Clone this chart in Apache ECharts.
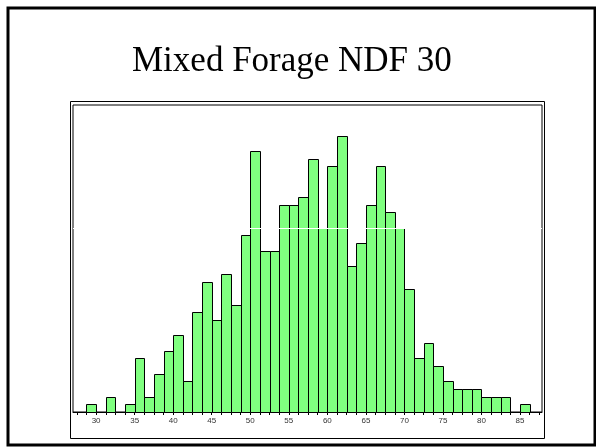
<!DOCTYPE html>
<html>
<head>
<meta charset="utf-8">
<script src="https://cdn.jsdelivr.net/npm/echarts@6/dist/echarts.min.js"></script>
<style>
html,body{margin:0;padding:0;background:#fff;}
#chart{width:596px;height:447px;}
</style>
</head>
<body>
<div id="chart"></div>
<script>
var titleText = 'Mixed Forage NDF 30';
var binWidth = 1.25;
var binStarts = [28.75, 30, 31.25, 32.5, 33.75, 35, 36.25, 37.5, 38.75, 40, 41.25, 42.5, 43.75, 45, 46.25, 47.5, 48.75, 50, 51.25, 52.5, 53.75, 55, 56.25, 57.5, 58.75, 60, 61.25, 62.5, 63.75, 65, 66.25, 67.5, 68.75, 70, 71.25, 72.5, 73.75, 75, 76.25, 77.5, 78.75, 80, 81.25, 82.5, 83.75, 85];
var counts = [1, 0, 2, 0, 1, 7, 2, 5, 8, 10, 4, 13, 17, 12, 18, 14, 23, 34, 21, 21, 27, 27, 28, 33, 24, 32, 36, 19, 22, 27, 32, 26, 24, 16, 7, 9, 6, 4, 3, 3, 3, 2, 2, 2, 0, 1];
var tickLabels = [30, 35, 40, 45, 50, 55, 60, 65, 70, 75, 80, 85];
var minorTicks = [27.5, 28.75, 30, 31.25, 32.5, 33.75, 35, 36.25, 37.5, 38.75, 40, 41.25, 42.5, 43.75, 45, 46.25, 47.5, 48.75, 50, 51.25, 52.5, 53.75, 55, 56.25, 57.5, 58.75, 60, 61.25, 62.5, 63.75, 65, 66.25, 67.5, 68.75, 70, 71.25, 72.5, 73.75, 75, 76.25, 77.5, 78.75, 80, 81.25, 82.5, 83.75, 85, 86.25, 87.5];
var seamLevel = 24;

var data = binStarts.map(function (s, i) { return [s, s + binWidth, counts[i]]; });

var chart = echarts.init(document.getElementById('chart'), null, {renderer: 'canvas'});
chart.setOption({
  animation: false,
  backgroundColor: '#fff',
  graphic: [
    {type: 'rect', shape: {x: 8, y: 8, width: 587, height: 437}, style: {fill: 'none', stroke: '#000', lineWidth: 3}, z: 10},
    {type: 'rect', shape: {x: 70.5, y: 101.5, width: 474, height: 337}, style: {fill: 'none', stroke: '#000', lineWidth: 1}, z: 10},
    {type: 'text', left: 132, top: 44, style: {text: titleText, font: '35px "Liberation Serif", "Times New Roman", serif', fill: '#000'}}
  ],
  grid: {left: 73, right: 54, top: 105, bottom: 35, show: true, borderColor: '#000', borderWidth: 1, backgroundColor: 'transparent'},
  xAxis: {
    type: 'value', min: 27, max: 87.85,
    splitLine: {show: false},
    axisLine: {show: true, onZero: false, lineStyle: {color: '#000', width: 1}},
    axisTick: {show: true, length: 3, inside: false, customValues: minorTicks, lineStyle: {color: '#000'}},
    axisLabel: {show: true, customValues: tickLabels, fontSize: 8, color: '#333', margin: 5, fontFamily: '"Liberation Sans", Arial, sans-serif'}
  },
  yAxis: {
    type: 'value', min: 0, max: 40,
    show: false, splitLine: {show: false}
  },
  series: [{
    type: 'custom',
    data: data,
    encode: {x: [0, 1], y: 2},
    renderItem: function (params, api) {
      var v = api.value(2);
      if (!v) return null;
      var p0 = api.coord([api.value(0), v]);
      var p1 = api.coord([api.value(1), 0]);
      return {
        type: 'rect',
        shape: {x: Math.round(p0[0]) + 0.5, y: Math.round(p0[1]) + 0.5, width: Math.round(p1[0]) - Math.round(p0[0]), height: Math.round(p1[1]) - Math.round(p0[1])},
        style: {fill: '#80ff80', stroke: '#000', lineWidth: 1}
      };
    },
    markLine: {
      silent: true, symbol: 'none', label: {show: false},
      lineStyle: {color: '#fff', width: 1, type: 'solid'},
      data: [{yAxis: seamLevel}],
      z: 5
    }
  }]
});
</script>
</body>
</html>
